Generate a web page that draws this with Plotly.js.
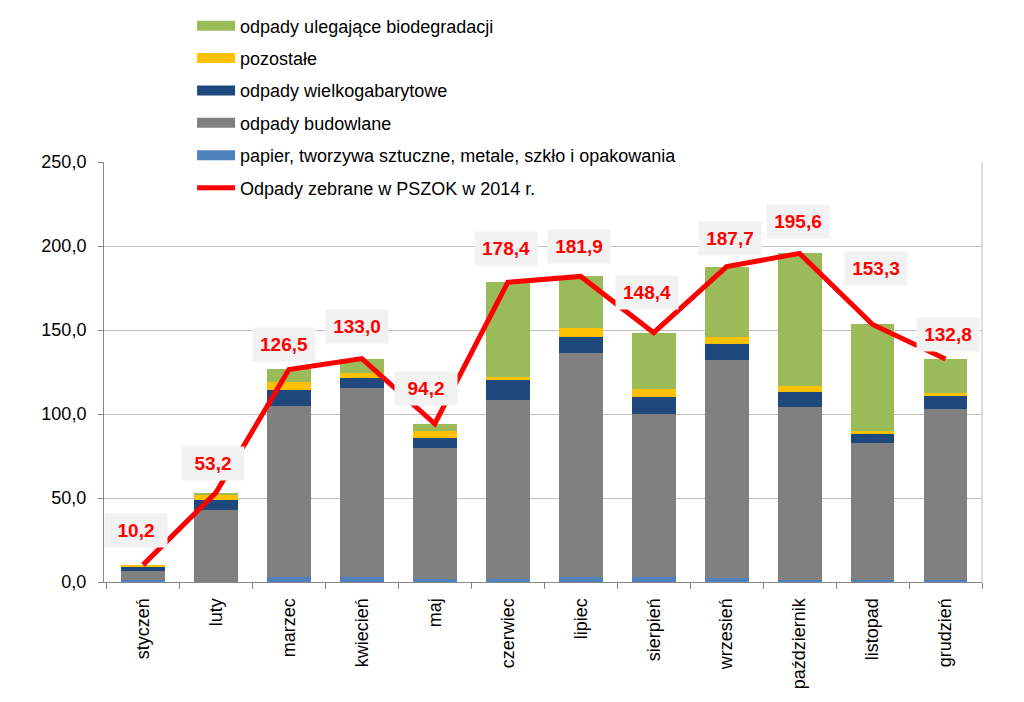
<!DOCTYPE html>
<html>
<head>
<meta charset="utf-8">
<script src="https://cdn.plot.ly/plotly-3.0.1.min.js"></script>
<style>html,body{margin:0;padding:0;background:#fff;}#chart{width:1024px;height:702px;}</style>
</head>
<body>
<div id="chart"></div>
<script>
const months = ["styczeń","luty","marzec","kwiecień","maj","czerwiec","lipiec","sierpień","wrzesień","październik","listopad","grudzień"];
const papier      = [1.2, 0.0, 3.0, 3.0, 1.8, 1.8, 3.0, 3.0, 2.4, 1.2, 1.2, 1.2];
const budowlane   = [5.5, 43.0, 101.8, 112.5, 78.0, 106.5, 133.3, 97.0, 129.8, 103.0, 81.5, 101.8];
const wielkogab   = [2.5, 6.0, 9.5, 6.0, 6.0, 11.9, 9.5, 10.1, 9.5, 8.9, 5.4, 7.7];
const pozostale   = [1.0, 2.6, 5.0, 3.0, 4.2, 1.8, 5.4, 4.8, 4.2, 3.6, 1.8, 1.8];
const biodegr     = [0.0, 1.6, 7.2, 8.5, 4.2, 56.4, 30.7, 33.5, 41.8, 78.9, 63.4, 20.3];
const totals      = [10.2, 53.2, 126.5, 133.0, 94.2, 178.4, 181.9, 148.4, 187.7, 195.6, 153.3, 132.8];
const totalLabels = ["10,2","53,2","126,5","133,0","94,2","178,4","181,9","148,4","187,7","195,6","153,3","132,8"];

const names = {
  bio: "odpady ulegające biodegradacji",
  poz: "pozostałe",
  wlk: "odpady wielkogabarytowe",
  bud: "odpady budowlane",
  pap: "papier, tworzywa sztuczne, metale, szkło i opakowania",
  tot: "Odpady zebrane w PSZOK w 2014 r."
};
const colors = {bio:"#9bbb59", poz:"#ffc000", wlk:"#1f497d", bud:"#808080", pap:"#4f81bd", tot:"#ff0000"};

// label placement (pixel shifts relative to line points)
const labelDX = [-7, -3, -5, -5, -9, -2, -2, -7, 3, -2, 3, 2];
const labelDY = [34, 29, 25, 32, 35, 34, 30, 40, 28, 32, 56, 24];

function bar(vals, key){
  return {type:"bar", x:months, y:vals, name:names[key], marker:{color:colors[key]},
          showlegend:false, hoverinfo:"y+name"};
}
function legendEntry(key, w){
  return {type:"scatter", mode:"lines", x:[null], y:[null], name:names[key],
          line:{color:colors[key], width:w}, legendgroup:key, showlegend:true, hoverinfo:"skip"};
}

const traces = [
  bar(papier,"pap"), bar(budowlane,"bud"), bar(wielkogab,"wlk"), bar(pozostale,"poz"), bar(biodegr,"bio"),
  {type:"scatter", mode:"lines", x:months, y:totals, name:names.tot, line:{color:colors.tot, width:5},
   showlegend:false, hoverinfo:"y"},
  legendEntry("bio",12), legendEntry("poz",12), legendEntry("wlk",12), legendEntry("bud",12), legendEntry("pap",12),
  legendEntry("tot",5)
];

const annotations = months.map((m,i)=>({
  x:m, y:totals[i], xref:"x", yref:"y", text:"<b>"+totalLabels[i]+"</b>", showarrow:false,
  xshift:labelDX[i], yshift:labelDY[i], bgcolor:"#f2f2f2", width:60, height:31,
  font:{family:"Liberation Sans, Arial, sans-serif", size:19, color:"#ff0000"}
}));

const layout = {
  width:1024, height:702,
  margin:{l:104, r:42, t:162, b:120, autoexpand:false},
  paper_bgcolor:"#ffffff", plot_bgcolor:"#ffffff",
  separators:", ",
  barmode:"stack", bargap:0.4,
  font:{family:"Liberation Sans, Arial, sans-serif", size:18, color:"#000000"},
  xaxis:{type:"category", showline:true, linecolor:"#868686", linewidth:1,
         ticks:"outside", tickson:"boundaries", ticklen:6, tickcolor:"#868686",
         tickangle:-90, tickfont:{size:18, color:"#000"}, ticklabelstandoff:8,
         showgrid:false, zeroline:false, fixedrange:true, automargin:false},
  yaxis:{range:[0,250], dtick:50, tickformat:".1f", showline:true, linecolor:"#868686", linewidth:1,
         ticks:"outside", ticklen:5, tickcolor:"#868686", tickfont:{size:18, color:"#000"},
         ticklabelstandoff:8, gridcolor:"#bfbfbf", gridwidth:1, zeroline:false, fixedrange:true, automargin:false},
  legend:{x:0.1003, y:1.368, xanchor:"left", yanchor:"top", bgcolor:"#ffffff",
          traceorder:"grouped", tracegroupgap:6, itemwidth:38,
          font:{family:"Liberation Sans, Arial, sans-serif", size:18, color:"#000"}},
  shapes:[
    {type:"line", xref:"paper", yref:"paper", x0:1, x1:1, y0:0, y1:1, line:{color:"#bfbfbf", width:1}},
    {type:"line", xref:"paper", yref:"paper", x0:0.019, x1:0.767, y0:1, y1:1, line:{color:"#ffffff", width:3}, layer:"above"}
  ],
  annotations:annotations
};

Plotly.newPlot("chart", traces, layout, {displayModeBar:false, staticPlot:true});
</script>
</body>
</html>
